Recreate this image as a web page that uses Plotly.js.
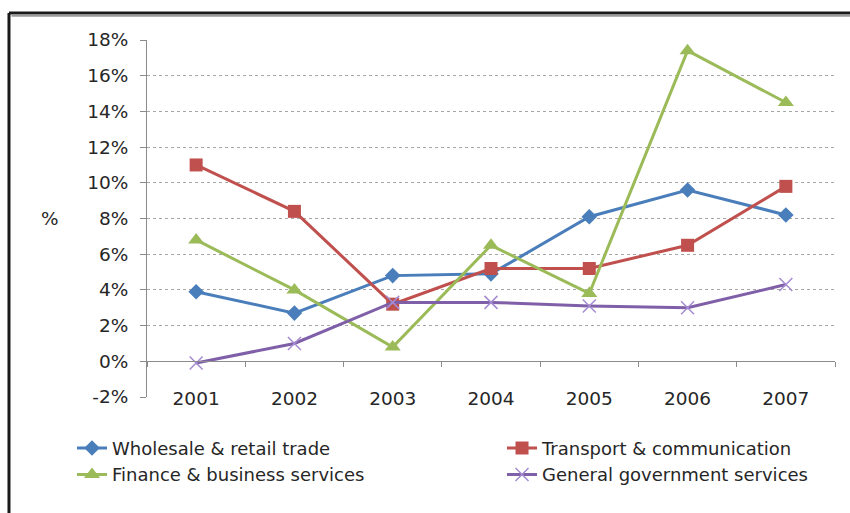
<!DOCTYPE html>
<html>
<head>
<meta charset="utf-8">
<script src="https://cdn.plot.ly/plotly-3.0.1.min.js"></script>
<style>
  html, body { margin: 0; padding: 0; background: #fff; }
  #chart { width: 850px; height: 513px; }
</style>
</head>
<body>
<div id="chart"></div>
<script>
// Annual growth by sector, 2001-2007 (%)
const years = ['2001', '2002', '2003', '2004', '2005', '2006', '2007'];
const wholesaleRetail = [3.9, 2.7, 4.8, 4.9, 8.1, 9.6, 8.2];
const transportComm = [11.0, 8.4, 3.2, 5.2, 5.2, 6.5, 9.8];
const financeBusiness = [6.8, 4.0, 0.8, 6.5, 3.8, 17.4, 14.5];
const generalGovernment = [-0.1, 1.0, 3.3, 3.3, 3.1, 3.0, 4.3];

const seriesNames = [
  'Wholesale & retail trade',
  'Transport & communication',
  'Finance & business services',
  'General government services'
];
const yTicks = [-2, 0, 2, 4, 6, 8, 10, 12, 14, 16, 18];
const yTickText = yTicks.map(v => v + '%');

const textFont = 'DejaVu Sans, Verdana, sans-serif';
const textColor = '#262626';

function series(name, values, color, symbol, size, legendId, extra) {
  return Object.assign({
    type: 'scatter',
    mode: 'lines+markers',
    name: name,
    legend: legendId,
    x: years,
    y: values,
    line: { color: color, width: 3 },
    marker: { symbol: symbol, size: size, color: color }
  }, extra || {});
}

const traces = [
  series(seriesNames[0], wholesaleRetail, '#4A7EBB', 'diamond', 12, 'legend'),
  series(seriesNames[1], transportComm, '#C0504D', 'square', 13, 'legend2'),
  series(seriesNames[2], financeBusiness, '#9BBB59', 'triangle-up', 14, 'legend'),
  series(seriesNames[3], generalGovernment, '#7F5FA8', 'x-thin-open', 13, 'legend2', {
    marker: { symbol: 'x-thin-open', size: 13, color: '#A58BD0', line: { color: '#A58BD0', width: 1.5 } }
  })
];

const legendStyle = {
  orientation: 'v',
  xanchor: 'left',
  y: -0.092,
  yanchor: 'top',
  font: { family: textFont, size: 18, color: textColor },
  bgcolor: 'rgba(0,0,0,0)',
  borderwidth: 0
};

const frameStroke = '#1a1a1a';
const layout = {
  width: 850,
  height: 513,
  margin: { l: 147, r: 15, t: 40, b: 116, autoexpand: false },
  paper_bgcolor: '#ffffff',
  plot_bgcolor: '#ffffff',
  showlegend: true,
  font: { family: textFont, color: textColor },
  xaxis: {
    type: 'category',
    range: [-0.5, 6.5],
    anchor: 'free',
    position: 0.1,
    showline: true,
    linecolor: '#8c8c8c',
    linewidth: 1,
    ticks: 'outside',
    tickson: 'boundaries',
    ticklen: 5,
    tickcolor: '#8c8c8c',
    ticklabelstandoff: 20,
    showgrid: false,
    zeroline: false,
    tickfont: { family: textFont, size: 18.5, color: textColor }
  },
  yaxis: {
    range: [-2, 18],
    tickmode: 'array',
    tickvals: yTicks,
    ticktext: yTickText,
    showline: true,
    linecolor: '#8c8c8c',
    linewidth: 1,
    ticks: 'outside',
    ticklen: 6,
    tickcolor: '#8c8c8c',
    ticklabelstandoff: 8,
    showgrid: true,
    gridcolor: '#a6a6a6',
    gridwidth: 1,
    griddash: '3px,3px',
    zeroline: false,
    tickfont: { family: textFont, size: 18.5, color: textColor }
  },
  legend: Object.assign({ x: -0.109 }, legendStyle),
  legend2: Object.assign({ x: 0.516 }, legendStyle),
  annotations: [{
    text: '%',
    xref: 'paper', yref: 'paper',
    x: -0.141, y: 0.5,
    xanchor: 'center', yanchor: 'middle',
    showarrow: false,
    font: { family: textFont, size: 18.5, color: textColor }
  }],
  shapes: [
    { type: 'line', xref: 'paper', yref: 'paper', x0: -0.2006, x1: 1.04, y0: 1.0756, y1: 1.0756,
      line: { color: frameStroke, width: 3 } },
    { type: 'line', xref: 'paper', yref: 'paper', x0: -0.197, x1: 1.04, y0: 1.068, y1: 1.068,
      line: { color: '#9a9a9a', width: 2 } },
    { type: 'line', xref: 'paper', yref: 'paper', x0: -0.2006, x1: -0.2006, y0: 1.0756, y1: -0.35,
      line: { color: frameStroke, width: 3 } }
  ]
};

Plotly.newPlot('chart', traces, layout, { displayModeBar: false, staticPlot: true });
</script>
</body>
</html>
